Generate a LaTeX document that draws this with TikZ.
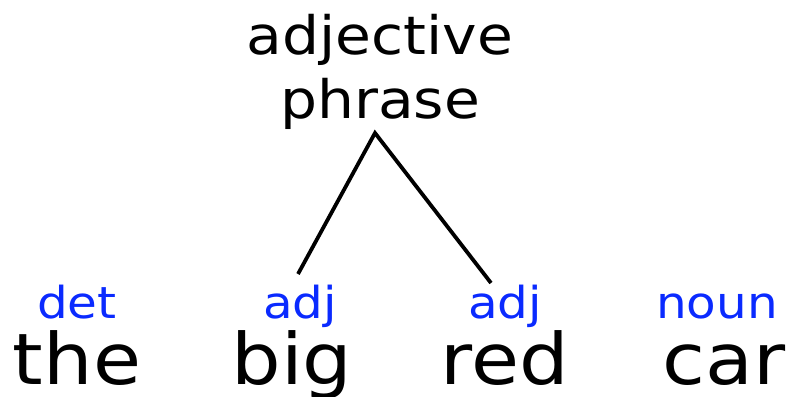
\documentclass[tikz,border=0pt]{standalone}
\usepackage{fontspec}
\setmainfont{DejaVu Sans}[FakeStretch=1.1]
\definecolor{tagblue}{HTML}{0A2AFF}
\begin{document}
\begin{tikzpicture}[x=1pt,y=-1pt,
  word/.style={inner sep=0pt,anchor=base,font=\fontsize{71}{80}\selectfont},
  tag/.style={inner sep=0pt,anchor=base,text=tagblue,font=\fontsize{44}{50}\selectfont},
  head/.style={inner sep=0pt,anchor=base,font=\fontsize{53}{60}\selectfont},
  branch/.style={line width=3.8pt}]
\useasboundingbox (0,0) rectangle (789,396);
% phrase label
\node[head] (h1) at (380,55) {adjective};
\node[head] (h2) at (380,118) {phrase};
% part-of-speech tags
\node[tag] (t1) at (77,318) {det};
\node[tag] (t2) at (300,318) {adj};
\node[tag] (t3) at (505,318) {adj};
\node[tag] (t4) at (717,318) {noun};
% words
\node[word] (w1) at (77,384) {the};
\node[word] (w2) at (292,384) {big};
\node[word] (w3) at (505,384) {red};
\node[word] (w4) at (724,384) {car};
% branches
\coordinate (apex) at (375,133);
\coordinate (leftend) at (298,274);
\coordinate (rightend) at (491,283);
\draw[branch] (leftend) -- (apex) -- (rightend);
\end{tikzpicture}
\end{document}
